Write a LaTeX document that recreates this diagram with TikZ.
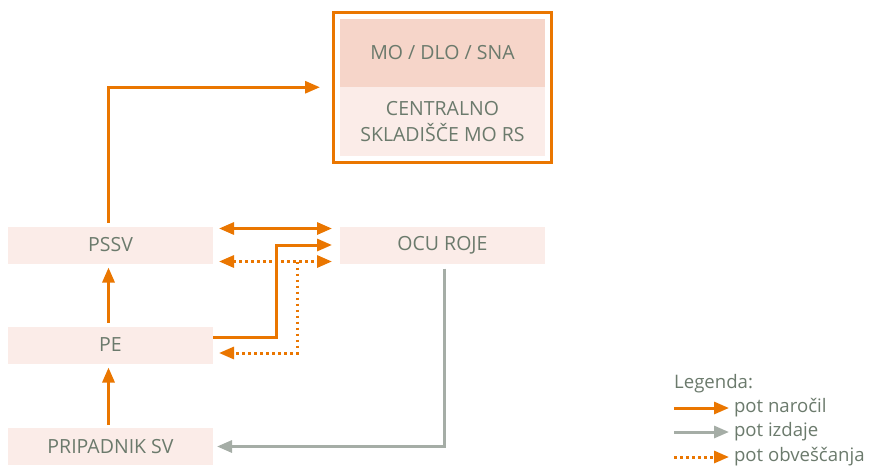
\documentclass[tikz,border=0pt]{standalone}
\usepackage{fontspec}
\setmainfont{Open Sans}
\usetikzlibrary{arrows.meta,positioning,fit,calc}

\definecolor{ocuorange}{HTML}{EA7600}
\definecolor{boxpink}{HTML}{FBECE8}
\definecolor{headpink}{HTML}{F6D5C9}
\definecolor{textgrey}{HTML}{6B7A6C}
\definecolor{linegrey}{HTML}{A5ADA6}

\tikzset{
  unit/.style = {fill=boxpink, minimum width=205pt, minimum height=37pt,
    inner sep=0pt, outer sep=0pt, text=textgrey, align=center},
  order/.style = {draw=ocuorange, line width=3pt},
  info/.style = {order, dash pattern=on 2.5pt off 3.5pt},
  issue/.style = {draw=linegrey, line width=3pt},
  legtext/.style = {anchor=west, text=textgrey, inner sep=0pt, outer sep=5pt,
    font=\fontsize{18.6}{24}\selectfont}
}

\begin{document}
\begin{tikzpicture}[x=1pt, y=-1pt, font=\fontsize{19.5}{26}\selectfont,
    >={Triangle[length=15pt,width=12pt]}]
  \useasboundingbox (0,0) rectangle (869,466);

  % boxes
  \node[unit] (pssv) at (110.5,245) {PSSV};
  \node[unit, below=63pt of pssv] (pe) {PE};
  \node[unit, below=64.5pt of pe] (sv) {PRIPADNIK SV};
  \node[unit, right=127pt of pssv] (ocu) {OCU ROJE};
  \node[unit, fill=headpink, minimum height=68pt] (mo) at (442.5,53) {MO / DLO / SNA};
  \node[unit, minimum height=68.5pt, below=0pt of mo] (cs) {CENTRALNO\\SKLADIŠČE MO RS};
  \node[draw=ocuorange, line width=3pt, inner sep=6.5pt, fit=(mo)(cs)] (rs) {};

  % paths
  \draw[order, ->] ([shift={(-2,-4)}]pssv.north) |- ([xshift=-12pt]rs.west);
  \draw[order, <->] ([shift={(6,2)}]pssv.north east) -- ([shift={(-8,2)}]ocu.north west);
  \draw[order, ->] ([shift={(0,10.5)}]pe.north east) -- ++(63,0) |- ([xshift=-8pt]ocu.west);
  \draw[info, <->] ([shift={(6,-2)}]pssv.south east) -- ([shift={(-8,-2)}]ocu.south west);
  \draw[info, ->] ([shift={(-43,-2)}]ocu.south west) |- ([shift={(6,-10.5)}]pe.south east);
  \draw[issue, ->] ([shift={(2,5)}]ocu.south) |- ([xshift=4pt]sv.east);
  \draw[order, ->] ([shift={(-2,-4)}]pe.north) -- ([shift={(-2,4)}]pssv.south);
  \draw[order, ->] ([shift={(-2,-3)}]sv.north) -- ([shift={(-2,4)}]pe.south);

  % legend
  \node[anchor=base west, text=textgrey, inner sep=0pt,
    font=\fontsize{18.6}{24}\selectfont] (leg) at (674,388) {Legenda:};
  \coordinate (k1) at (674,408);
  \coordinate (k2) at (674,432);
  \coordinate (k3) at (674,457);
  \node[legtext] (t1) at (729,408) {pot naročil};
  \node[legtext] (t2) at (729,432) {pot izdaje};
  \node[legtext] (t3) at (729,457) {pot obveščanja};
  \draw[order, ->] (k1) -- (t1.west);
  \draw[issue, ->] (k2) -- (t2.west);
  \draw[info, ->] (k3) -- (t3.west);
\end{tikzpicture}
\end{document}
